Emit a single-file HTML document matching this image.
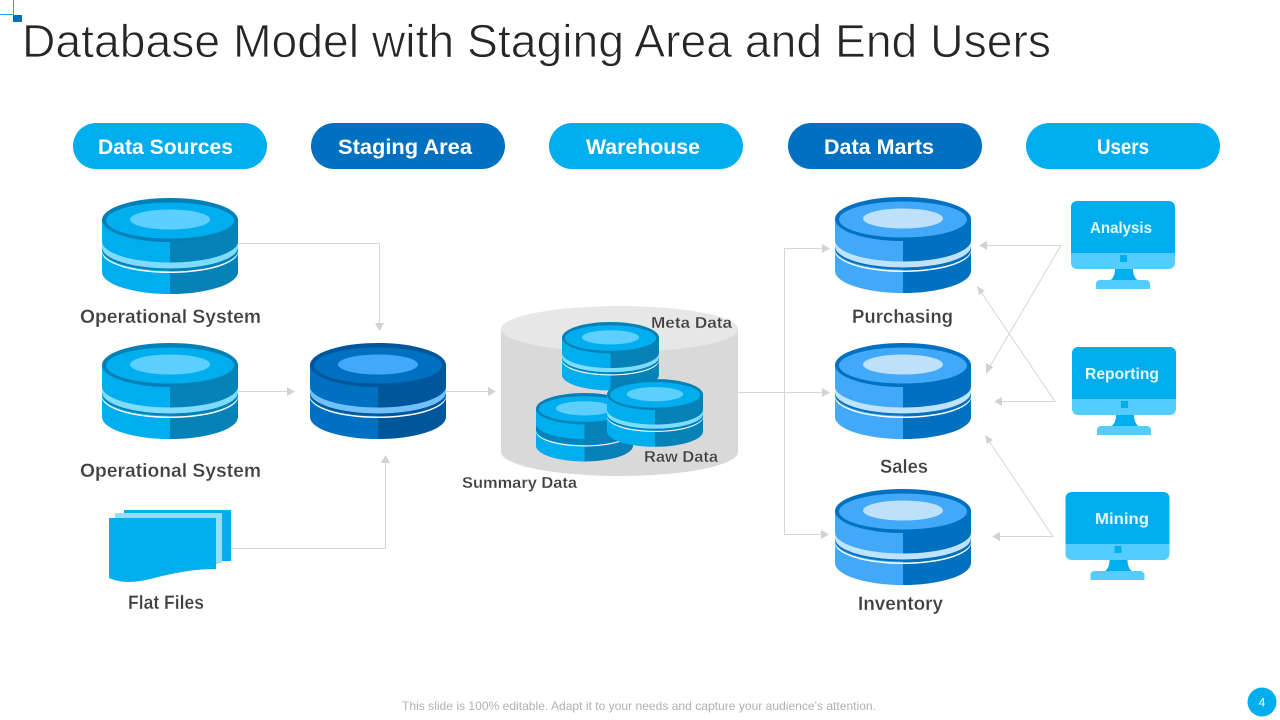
<!DOCTYPE html>
<html><head><meta charset="utf-8"><style>
html,body{margin:0;padding:0;background:#fff;width:1280px;height:720px;overflow:hidden}
svg{display:block}
text{font-family:"Liberation Sans",sans-serif}
.l{font-weight:700;font-size:19px;fill:#404040;stroke:#fff;stroke-width:.25px}
.s{font-weight:700;font-size:16px;fill:#404040;stroke:#fff;stroke-width:.2px}
.p{font-weight:700;font-size:21px;fill:#fff}
.m{font-weight:700;font-size:16px;fill:#e4f7ff}
.c{fill:none;stroke:#d6d6d6;stroke-width:1}
.a{fill:#d2d2d2}
.src{--l:#00aeef;--d:#0682b8;--r:#0480b6;--o:#5dcfff;--b:#80dcff;--g:#0480b6}
.cen{--l:#0070c0;--d:#00569b;--r:#00569b;--o:#42a8f8;--b:#70c0fa;--g:#00569b}
.mar{--l:#42a8f8;--d:#0070c0;--r:#0070c0;--o:#bde0fb;--b:#bfe3fd;--g:#0070c0}
.dim{--l:#00aeef;--d:#0682b8;--r:#0480b6;--o:#5dcfff;--b:#0682b8;--g:#0480b6}
</style></head><body>
<svg width="1280" height="720" viewBox="0 0 1280 720" xmlns="http://www.w3.org/2000/svg">
<defs>
<symbol id="disk" viewBox="0 0 136 96" width="136" height="96" overflow="visible">
<path d="M0,22V74A68,22 0 0 0 68,96V22Z" fill="var(--l)"/>
<path d="M136,22V74A68,22 0 0 1 68,96V22Z" fill="var(--d)"/>
<path d="M0,43.500A68,21 0 0 0 136,43.500V49.500A68,21 0 0 1 0,49.500Z" fill="var(--b)"/>
<path d="M0,49.500A68,21 0 0 0 136,49.500V51.500A68,21 0 0 1 0,51.500Z" fill="var(--g)"/>
<path d="M0,52.500A68,21 0 0 0 136,52.500V54A68,21 0 0 1 0,54Z" fill="#fff"/>
<ellipse cx="68" cy="22" rx="68" ry="22" fill="var(--r)"/>
<ellipse cx="68" cy="22.500" rx="64" ry="18" fill="var(--l)"/>
<ellipse cx="68" cy="21.500" rx="40" ry="10" fill="var(--o)"/>
</symbol>
<symbol id="mon" viewBox="0 0 104 88" width="104" height="88" overflow="visible">
<path d="M6,0H98a6,6 0 0 1 6,6V52H0V6a6,6 0 0 1 6,-6Z" fill="#00aeef"/>
<path d="M0,52H104V62a6,6 0 0 1 -6,6H6a6,6 0 0 1 -6,-6Z" fill="#55ccff"/>
<rect x="49" y="54" width="7" height="7" fill="#00aeef"/>
<path d="M44,68H62C62,74 64,78 68,80H38C42,78 44,74 44,68Z" fill="#00aeef"/>
<path d="M29,79H75a4,4 0 0 1 4,4V88H25V83a4,4 0 0 1 4,-4Z" fill="#55ccff"/>
</symbol>
</defs>

<!-- corner mark -->
<rect x="0" y="14" width="14" height="1" fill="#2aa3e0"/>
<rect x="13" y="0" width="1" height="15" fill="#2aa3e0"/>
<rect x="13" y="15" width="9" height="7" fill="#0070c0"/>

<text x="22" y="57" font-size="46" fill="#262626" stroke="#fff" stroke-width=".8" textLength="1029" lengthAdjust="spacingAndGlyphs">Database Model with Staging Area and End Users</text>

<!-- pills -->
<rect x="73" y="123" width="194" height="46" rx="23" fill="#00aeef"/>
<rect x="311" y="123" width="194" height="46" rx="23" fill="#0070c0"/>
<rect x="549" y="123" width="194" height="46" rx="23" fill="#00aeef"/>
<rect x="788" y="123" width="194" height="46" rx="23" fill="#0070c0"/>
<rect x="1026" y="123" width="194" height="46" rx="23" fill="#00aeef"/>
<text class="p" x="98" y="154" textLength="135" lengthAdjust="spacingAndGlyphs">Data Sources</text>
<text class="p" x="338" y="154" textLength="134" lengthAdjust="spacingAndGlyphs">Staging Area</text>
<text class="p" x="586" y="154" textLength="114" lengthAdjust="spacingAndGlyphs">Warehouse</text>
<text class="p" x="824" y="154" textLength="110" lengthAdjust="spacingAndGlyphs">Data Marts</text>
<text class="p" x="1097" y="154" textLength="52" lengthAdjust="spacingAndGlyphs">Users</text>

<!-- connectors -->
<path class="c" d="M238,243.500H379.500V325"/><path class="a" d="M375,323H384L379.500,331Z"/>
<path class="c" d="M238,391.500H288"/><path class="a" d="M287,387L295,391.500L287,396Z"/>
<path class="c" d="M446,391.500H489"/><path class="a" d="M488,387L496,391.500L488,396Z"/>
<path class="c" d="M231,548.500H385.500V461"/><path class="a" d="M381,463H390L385.500,455Z"/>
<path class="c" d="M738,392.500H823"/><path class="a" d="M822,388L830,392.500L822,397Z"/>
<path class="c" d="M823,248.500H784.500V534.500H822"/><path class="a" d="M822,244L830,248.500L822,253Z"/><path class="a" d="M821,530L829,534.500L821,539Z"/>
<path class="c" d="M986,245.500H1061L989,368"/><path class="a" d="M987,241L979,245.500L987,250Z"/><path class="a" d="M986,363L993,367L986,374Z"/>
<path class="c" d="M1001,401.500H1055L981,292"/><path class="a" d="M1002,397L994,401.500L1002,406Z"/><path class="a" d="M977,286L985,291L979,295Z"/>
<path class="c" d="M999,536.500H1053L989,441"/><path class="a" d="M1000,532L992,536.500L1000,541Z"/><path class="a" d="M985,435L993,440L987,444Z"/>

<!-- disks -->
<use href="#disk" x="102" y="198" class="src"/>
<use href="#disk" x="102" y="343" class="src"/>
<use href="#disk" x="310" y="343" class="cen"/>
<use href="#disk" x="835" y="197" class="mar"/>
<use href="#disk" x="835" y="343" class="mar"/>
<use href="#disk" x="835" y="489" class="mar"/>

<!-- warehouse -->
<path d="M501,329V452A118.500,24 0 0 0 738,452V329Z" fill="#d9d9d9"/>
<ellipse cx="619.500" cy="329" rx="118.500" ry="23" fill="#e7e7e7"/>
<g class="src"><use href="#disk" transform="translate(562,322) scale(.713)"/></g>
<g class="dim"><use href="#disk" transform="translate(536,393) scale(.713)"/></g>
<g class="src"><use href="#disk" transform="translate(607,379) scale(.706)"/></g>
<text class="s" x="651" y="328" textLength="81" lengthAdjust="spacingAndGlyphs">Meta Data</text>
<text class="s" x="644" y="462" textLength="74" lengthAdjust="spacingAndGlyphs">Raw Data</text>
<text class="s" x="462" y="488" textLength="115" lengthAdjust="spacingAndGlyphs">Summary Data</text>

<!-- flat files -->
<rect x="124" y="510" width="107" height="51" fill="#00aeef"/>
<path d="M115,513H222V563L209,566H115Z" fill="#90e0fa"/>
<path d="M109,518H216V569C190,569 170,574 150,579C130,584 118,582 109,578Z" fill="#00aeef"/>

<!-- monitors -->
<use href="#mon" x="1071" y="201"/>
<use href="#mon" x="1072" y="347"/>
<use href="#mon" x="1065.500" y="492"/>
<text class="m" x="1090" y="233" textLength="62" lengthAdjust="spacingAndGlyphs">Analysis</text>
<text class="m" x="1085" y="379" textLength="74" lengthAdjust="spacingAndGlyphs">Reporting</text>
<text class="m" x="1095" y="524" textLength="54" lengthAdjust="spacingAndGlyphs">Mining</text>

<!-- labels -->
<text class="l" x="80" y="323" textLength="181" lengthAdjust="spacingAndGlyphs">Operational System</text>
<text class="l" x="80" y="477" textLength="181" lengthAdjust="spacingAndGlyphs">Operational System</text>
<text class="l" x="128" y="609" textLength="76" lengthAdjust="spacingAndGlyphs">Flat Files</text>
<text class="l" x="852" y="323" textLength="101" lengthAdjust="spacingAndGlyphs">Purchasing</text>
<text class="l" x="880" y="473" textLength="48" lengthAdjust="spacingAndGlyphs">Sales</text>
<text class="l" x="858" y="610" textLength="85" lengthAdjust="spacingAndGlyphs">Inventory</text>

<!-- footer -->
<text x="402" y="710" font-size="12" fill="#b0b0b0" textLength="474" lengthAdjust="spacingAndGlyphs">This slide is 100% editable. Adapt it to your needs and capture your audience's attention.</text>
<circle cx="1262" cy="702" r="14.500" fill="#00aeef"/>
<text x="1262" y="706.500" font-size="12" fill="#fff" text-anchor="middle">4</text>
</svg>
</body></html>
